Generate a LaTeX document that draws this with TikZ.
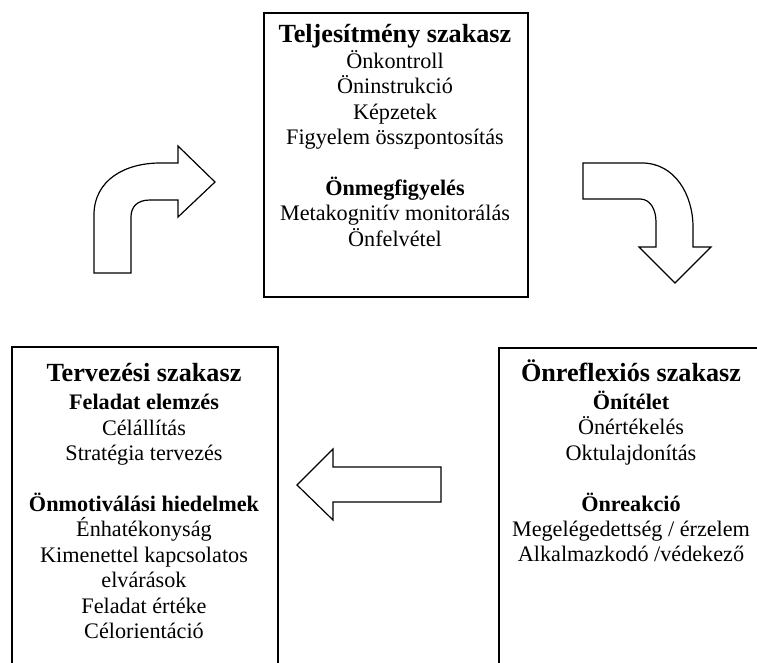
\documentclass[tikz,border=0pt]{standalone}
\usepackage{fontspec}
\setmainfont{Liberation Serif}
\newcommand{\bodyfont}{\fontsize{22.2}{25.4}\selectfont}
\newcommand{\ttlfont}{\fontsize{26.2}{29}\selectfont\bfseries}
\tikzset{
  box/.style={draw, line width=1.6pt, rectangle, inner sep=0pt},
  txt/.style={align=center, inner sep=0pt, font=\bodyfont},
  shapearrow/.style={draw, line width=1.2pt, line join=miter, fill=white}
}
\begin{document}
\begin{tikzpicture}[x=1pt,y=-1pt]
\useasboundingbox (0,0) rectangle (757,662);
\clip (0,0) rectangle (757,662);
% boxes
\node[box, anchor=north west, minimum width=264pt, minimum height=284pt] (perf) at (263,12) {};
\node[box, anchor=north west, minimum width=266pt, minimum height=354pt] (plan) at (11,346) {};
\node[box, anchor=north west, minimum width=266pt, minimum height=353pt] (refl) at (498,347) {};
% texts
\node[txt, anchor=north] (perftxt) at (395,24) {{\ttlfont Teljesítmény szakasz}\\[0.5pt]
Önkontroll\\ Öninstrukció\\ Képzetek\\ Figyelem összpontosítás\\[25.4pt]
\textbf{Önmegfigyelés}\\ Metakognitív monitorálás\\ Önfelvétel};
\node[txt, anchor=north] (plantxt) at (144,363) {{\ttlfont Tervezési szakasz}\\[3pt]
\textbf{Feladat elemzés}\\ Célállítás\\ Stratégia tervezés\\[25.4pt]
\textbf{Önmotiválási hiedelmek}\\ Énhatékonyság\\ Kimenettel kapcsolatos\\ elvárások\\ Feladat értéke\\ Célorientáció};
\node[txt, anchor=north] (refltxt) at (631,359) {{\ttlfont Önreflexiós szakasz}\\[3pt]
\textbf{Önítélet}\\ Önértékelés\\ Oktulajdonítás\\[25.4pt]
\textbf{Önreakció}\\ Megelégedettség / érzelem\\ Alkalmazkodó /védekező};
% curved arrow up-right
\draw[shapearrow] (94,273) -- (94,215) .. controls (94,180) and (125,163) .. (160,163)
  -- (178,163) -- (178,146) -- (215,182) -- (178,217) -- (178,200) -- (150,200)
  .. controls (137,200) and (131,207) .. (131,217) -- (131,273) -- cycle;
% curved arrow right-down
\draw[shapearrow] (583,163) -- (642,163) .. controls (675,163) and (693,195) .. (693,227)
  -- (693,247) -- (711,247) -- (675,283) -- (639,247) -- (656,247) -- (656,222)
  .. controls (656,209) and (650,199) .. (640,199) -- (583,199) -- cycle;
% left arrow
\draw[shapearrow] (441,467) -- (333,467) -- (333,449) -- (297,485) -- (333,520)
  -- (333,502) -- (441,502) -- cycle;
\end{tikzpicture}
\end{document}
